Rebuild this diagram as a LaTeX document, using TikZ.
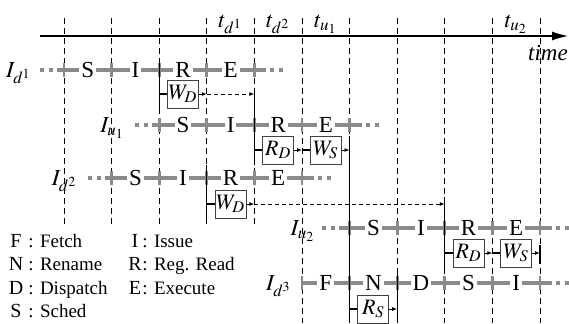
\documentclass[tikz,border=0pt]{standalone}
\usepackage{mathptmx}
\usepackage{fontspec}
\setmainfont{Liberation Serif}
\usetikzlibrary{arrows.meta,positioning,calc}
\definecolor{bargray}{HTML}{8A8A8A}
\tikzset{
  gridline/.style={draw=black, line width=0.5pt, dash pattern=on 3pt off 2pt},
  timeaxis/.style={-{Latex[length=8pt,width=4.5pt]}, line width=0.6pt},
  stagebar/.style={draw=bargray, line width=2.4pt},
  stagedots/.style={draw=bargray, line width=2.4pt, dash pattern=on 2pt off 2.5pt},
  stagetick/.style={draw=bargray, line width=1.4pt},
  stage/.style={fill=white, inner sep=1pt, font=\fontsize{11.5}{13}\selectfont},
  rowlabel/.style={anchor=base east, inner sep=0pt, font=\fontsize{11.5}{13}\selectfont},
  tlabel/.style={anchor=base, inner sep=0pt, font=\fontsize{11.5}{13}\selectfont},
  regbox/.style={draw=black!75, line width=0.5pt, fill=white, minimum width=15.5pt,
    minimum height=14pt, inner sep=0.5pt, font=\fontsize{11}{12}\selectfont},
  depline/.style={draw=black, line width=0.55pt},
  shortarrow/.style={-{Latex[length=2.5pt,width=2pt]}, line width=0.5pt},
  waitarrow/.style={-{Latex[length=2.5pt,width=2pt]}, line width=0.5pt, dash pattern=on 2pt off 1.5pt},
  keyletter/.style={anchor=base, inner sep=0pt, font=\fontsize{10}{11}\selectfont},
  keytext/.style={anchor=base west, inner sep=0pt, font=\fontsize{9.5}{11}\selectfont}
}

\begin{document}
\begin{tikzpicture}[x=0.5pt,y=-0.5pt]
  \useasboundingbox (0,0) rectangle (569,323);
  % cycle grid
  \foreach \k in {0,...,10}
    \coordinate (g\k) at ({64+47.6*\k},18);
  \coordinate (bot) at (0,323);
  \foreach \k in {0,...,4}
    \draw[gridline] (g\k) -- ++(0,208);
  \foreach \k in {5,...,10}
    \draw[gridline] (g\k) -- (g\k|-bot);
  % time axis
  \coordinate (ax0) at (40,36);
  \coordinate (ax1) at (568,36);
  \draw[timeaxis] (ax0) -- (ax1);
  \node[tlabel] (tm) at (548,60) {\itshape time};
  \node[tlabel] (td1) at ($(g3)!0.5!(g4)+(0,9)$) {$t_{d^1}$};
  \node[tlabel] (td2) at ($(g4)!0.5!(g5)+(0,9)$) {$t_{d^2}$};
  \node[tlabel] (tu1) at ($(g5)!0.5!(g6)+(0,9)$) {$t_{u_1}$};
  \node[tlabel] (tu2) at ($(g9)!0.5!(g10)+(0,9)$) {$t_{u_2}$};

  % I_d1
  \coordinate (rowa) at (0,70);
  \draw[stagedots] ($(g0|-rowa)+(-24,0)$) -- ++(13,0);
  \draw[stagebar] ($(g0|-rowa)+(-7,0)$) -- ($(g4|-rowa)+(12,0)$);
  \draw[stagedots] ($(g4|-rowa)+(16,0)$) -- ++(13,0);
  \foreach \k in {0,...,4}
    \draw[stagetick] ($(g\k|-rowa)+(0,-7)$) -- ++(0,14);
  \foreach \s [count=\k from 0, evaluate=\k as \n using int(\k+1)] in {S,I,R,E}
    \node[stage] (a\k) at ($(g\k|-rowa)!0.5!(g\n|-rowa)$) {\s};
  \node[rowlabel] (lda) at ($(g0|-rowa)+(-32,7)$) {$I_{d^1}$};

  % I_u1
  \coordinate (rowb) at (0,125);
  \draw[stagedots] ($(g2|-rowb)+(-24,0)$) -- ++(13,0);
  \draw[stagebar] ($(g2|-rowb)+(-7,0)$) -- ($(g6|-rowb)+(12,0)$);
  \draw[stagedots] ($(g6|-rowb)+(16,0)$) -- ++(13,0);
  \foreach \k in {2,...,6}
    \draw[stagetick] ($(g\k|-rowb)+(0,-7)$) -- ++(0,14);
  \foreach \s [count=\k from 2, evaluate=\k as \n using int(\k+1)] in {S,I,R,E}
    \node[stage] (b\k) at ($(g\k|-rowb)!0.5!(g\n|-rowb)$) {\s};
  \node[rowlabel] (lub) at ($(g2|-rowb)+(-34,7)$) {$I_{u_1}$};

  % I_d2
  \coordinate (rowc) at (0,178);
  \draw[stagedots] ($(g1|-rowc)+(-24,0)$) -- ++(13,0);
  \draw[stagebar] ($(g1|-rowc)+(-7,0)$) -- ($(g5|-rowc)+(12,0)$);
  \draw[stagedots] ($(g5|-rowc)+(16,0)$) -- ++(13,0);
  \foreach \k in {1,...,5}
    \draw[stagetick] ($(g\k|-rowc)+(0,-7)$) -- ++(0,14);
  \foreach \s [count=\k from 1, evaluate=\k as \n using int(\k+1)] in {S,I,R,E}
    \node[stage] (c\k) at ($(g\k|-rowc)!0.5!(g\n|-rowc)$) {\s};
  \node[rowlabel] (ldc) at ($(g1|-rowc)+(-34,7)$) {$I_{d^2}$};

  % I_u2
  \coordinate (rowd) at (0,228);
  \draw[stagedots] ($(g6|-rowd)+(-28,0)$) -- ++(13,0);
  \draw[stagebar] ($(g6|-rowd)+(-11,0)$) -- ($(g10|-rowd)+(12,0)$);
  \draw[stagedots] ($(g10|-rowd)+(16,0)$) -- ++(13,0);
  \foreach \k in {6,...,10}
    \draw[stagetick] ($(g\k|-rowd)+(0,-7)$) -- ++(0,14);
  \foreach \s [count=\k from 6, evaluate=\k as \n using int(\k+1)] in {S,I,R,E}
    \node[stage] (d\k) at ($(g\k|-rowd)!0.5!(g\n|-rowd)$) {\s};
  \node[rowlabel] (lud) at ($(g6|-rowd)+(-34,7)$) {$I_{u_2}$};

  % I_d3
  \coordinate (rowe) at (0,283);
  \draw[stagebar] (g5|-rowe) -- ($(g10|-rowe)+(12,0)$);
  \draw[stagedots] ($(g10|-rowe)+(16,0)$) -- ++(13,0);
  \foreach \k in {5,...,10}
    \draw[stagetick] ($(g\k|-rowe)+(0,-7)$) -- ++(0,14);
  \foreach \s [count=\k from 5, evaluate=\k as \n using int(\k+1)] in {F,N,D,S,I}
    \node[stage] (e\k) at ($(g\k|-rowe)!0.5!(g\n|-rowe)$) {\s};
  \node[rowlabel] (lde) at ($(g5|-rowe)+(-10,7)$) {$I_{d^3}$};

  % register boxes
  \node[regbox] (wda) at ($(a2)+(0,24)$) {$W_D$};
  \node[regbox] (rdb) at ($(b4)+(0,25)$) {$R_D$};
  \node[regbox] (wsb) at ($(b5)+(0,25)$) {$W_S$};
  \node[regbox] (wdc) at ($(c3)+(0,26)$) {$W_D$};
  \node[regbox] (rdd) at ($(d8)+(0,25)$) {$R_D$};
  \node[regbox] (wsd) at ($(d9)+(0,25)$) {$W_S$};
  \node[regbox] (rse) at ($(e6)+(0,26)$) {$R_S$};

  % dependences
  \draw[depline] ($(g2|-rowa)+(0,-10)$) -- (g2|-wda.south);
  \draw[depline] (g2|-wda) -- (wda.west);
  \draw[shortarrow] (wda.east) -- (g3|-wda);
  \draw[waitarrow] (g3|-wda) -- (g4|-wda);
  \draw[depline] ($(g4|-wda)+(0,-6)$) -- (g4|-rdb.south);
  \draw[depline] (g4|-rdb) -- (rdb.west);
  \draw[shortarrow] (rdb.east) -- (g5|-rdb);
  \draw[depline] (g5|-wsb) -- (wsb.west);
  \draw[shortarrow] (wsb.east) -- (g6|-wsb);
  \draw[depline] (g6|-wsb.north) -- (g6|-bot);

  \draw[depline] ($(g3|-rowc)+(0,-13)$) -- (g3|-wdc.south);
  \draw[depline] (g3|-wdc) -- (wdc.west);
  \draw[shortarrow] (wdc.east) -- (g4|-wdc);
  \draw[waitarrow] (g4|-wdc) -- (g8|-wdc);
  \draw[depline] ($(g8|-wdc)+(0,-7)$) -- (g8|-rdd.south);
  \draw[depline] (g8|-rdd) -- (rdd.west);
  \draw[shortarrow] (rdd.east) -- (g9|-rdd);
  \draw[depline] (g9|-wsd) -- (wsd.west);
  \draw[shortarrow] (wsd.east) -- (g10|-wsd);
  \draw[depline] ($(g10|-wsd)+(0,-8)$) -- ($(g10|-wsd)+(0,11)$);

  \draw[depline] (g6|-rse) -- (rse.west);
  \draw[shortarrow] (rse.east) -- (g7|-rse);
  \draw[depline] ($(g7|-rowe)+(0,-13)$) -- (g7|-bot);

  % legend
  \node[keyletter] (kf) at (16,247) {F};
  \node[keytext] (tf) at (28,247) {: Fetch};
  \node[keyletter] (kn) at (16,270.5) {N};
  \node[keytext] (tn) at (28,270.5) {: Rename};
  \node[keyletter] (kd) at (16,294) {D};
  \node[keytext] (td) at (28,294) {: Dispatch};
  \node[keyletter] (ks) at (16,317.5) {S};
  \node[keytext] (ts) at (28,317.5) {: Sched};
  \node[keyletter] (ki) at (135,247) {I};
  \node[keytext] (ti) at (142,247) {: Issue};
  \node[keyletter] (kr) at (135,270.5) {R};
  \node[keytext] (tr) at (142,270.5) {: Reg. Read};
  \node[keyletter] (ke) at (135,294) {E};
  \node[keytext] (te) at (142,294) {: Execute};
\end{tikzpicture}
\end{document}
